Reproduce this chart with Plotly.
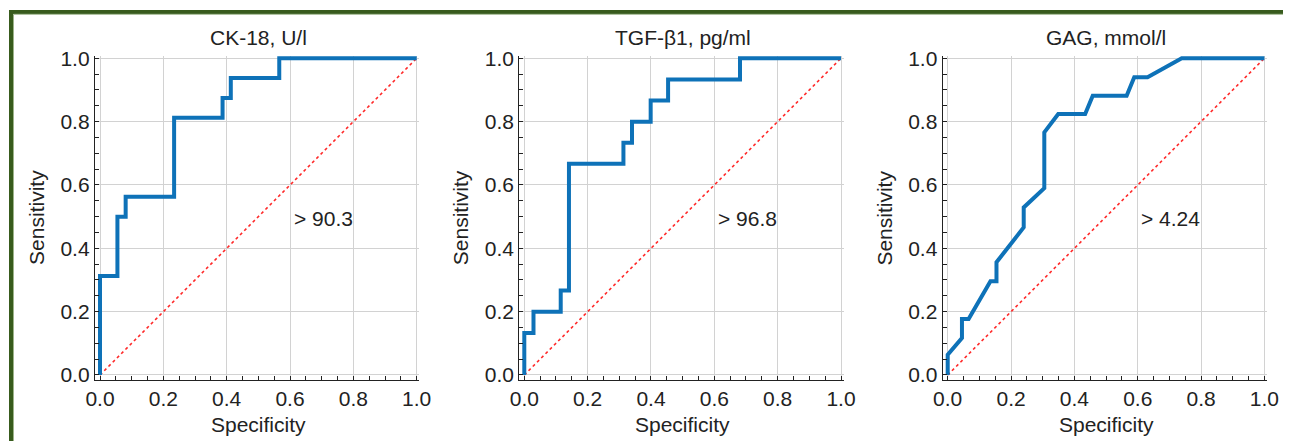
import plotly.graph_objects as go

# ---------------- data ----------------
panel_titles = ["CK-18, U/l", "TGF-\u03b21, pg/ml", "GAG, mmol/l"]
cutoff_labels = ["> 90.3", "> 96.8", "> 4.24"]

# CK-18 ROC (step curve, drawn with hv shape)
ck18_x = [0, 0, 0.055, 0.081, 0.234, 0.387, 0.413, 0.566, 1.0]
ck18_y = [0, 0.3125, 0.5, 0.5625, 0.8125, 0.875, 0.9375, 1.0, 1.0]

# TGF-b1 ROC (step curve, drawn with hv shape)
tgf_x = [0, 0, 0.029, 0.115, 0.141, 0.313, 0.340, 0.399, 0.454, 0.681, 1.0]
tgf_y = [0, 0.133, 0.2, 0.267, 0.667, 0.733, 0.8, 0.867, 0.933, 1.0, 1.0]

# GAG ROC (vertices, straight segments)
gag_x = [0, 0, 0.045, 0.045, 0.066, 0.135, 0.154, 0.154, 0.240, 0.240,
         0.305, 0.305, 0.349, 0.434, 0.458, 0.565, 0.589, 0.631, 0.739, 1.0]
gag_y = [0, 0.064, 0.117, 0.177, 0.177, 0.296, 0.296, 0.356, 0.466, 0.529,
         0.590, 0.766, 0.824, 0.824, 0.882, 0.882, 0.940, 0.940, 1.0, 1.0]

diag_x = [0, 1]
diag_y = [0, 1]

tick_vals = [0, 0.2, 0.4, 0.6, 0.8, 1.0]
cutoff_pos_x = 0.605
cutoff_pos_y = 0.495

# ---------------- styling ----------------
OFF = 8  # page body margin offset of the figure inside the window
W, H = 1291 - OFF, 441 - OFF
FONT = "Liberation Sans, Arial, Helvetica, sans-serif"
TXT = "#222222"
BLUE = "#0e72b8"
GREEN = "#385b1d"


def px_x(v):
    return (v - OFF) / W


def px_y(v):
    return 1 - (v - OFF) / H


# window-pixel layout of the three panels (axis-line left edge)
left_px = [95, 519.3, 942.7]
unit_px = 316.7
lo, hi = -0.0158, 1.008
span_px = (hi - lo) * unit_px
top_px = 58.3 - (hi - 1) * unit_px
bot_px = top_px + span_px

fig = go.Figure()

curves = [
    (ck18_x, ck18_y, "hv"),
    (tgf_x, tgf_y, "hv"),
    (gag_x, gag_y, "linear"),
]

for i, (cx, cy, shape) in enumerate(curves):
    sfx = "" if i == 0 else str(i + 1)
    xa, ya = "x" + sfx, "y" + sfx
    fig.add_trace(go.Scatter(x=diag_x, y=diag_y, mode="lines", xaxis=xa, yaxis=ya,
                             line=dict(color="#ff2a2a", width=1.6, dash="dot"),
                             showlegend=False, hoverinfo="skip"))
    fig.add_trace(go.Scatter(x=cx, y=cy, mode="lines", xaxis=xa, yaxis=ya,
                             line=dict(color=BLUE, width=4, shape=shape),
                             showlegend=False))

    common = dict(
        range=[lo, hi], tickvals=tick_vals, tickformat=".1f",
        showgrid=True, gridcolor="#d2d2d2", gridwidth=1.2,
        zeroline=False, showline=True, linecolor="#222222", linewidth=1.3,
        ticks="inside", ticklen=4, tickcolor="#222222", tickwidth=1.2,
        minor=dict(dtick=0.05, ticks="inside", ticklen=4, tickcolor="#222222",
                   tickwidth=1, showgrid=False),
        tickfont=dict(family=FONT, size=21, color=TXT),
        automargin=False, fixedrange=True,
    )
    fig.layout["xaxis" + sfx] = dict(
        domain=[px_x(left_px[i]), px_x(left_px[i] + span_px)], anchor=ya, **common)
    fig.layout["yaxis" + sfx] = dict(
        domain=[px_y(bot_px), px_y(top_px)], anchor=xa, **common)

    cx_px = left_px[i] + (0 - lo) * unit_px + 0.5 * unit_px
    # panel title
    fig.add_annotation(x=px_x(cx_px), y=px_y(37.5), xref="paper", yref="paper",
                       text=panel_titles[i], showarrow=False,
                       font=dict(family=FONT, size=21, color=TXT),
                       xanchor="center", yanchor="middle")
    # x axis title
    fig.add_annotation(x=px_x(cx_px), y=px_y(424), xref="paper", yref="paper",
                       text="Specificity", showarrow=False,
                       font=dict(family=FONT, size=21, color=TXT),
                       xanchor="center", yanchor="middle")
    # y axis title
    fig.add_annotation(x=px_x(left_px[i] - 58), y=px_y((top_px + bot_px) / 2),
                       xref="paper", yref="paper",
                       text="Sensitivity", showarrow=False, textangle=-90,
                       font=dict(family=FONT, size=21, color=TXT),
                       xanchor="center", yanchor="middle")
    # cutoff label
    fig.add_annotation(x=cutoff_pos_x, y=cutoff_pos_y, xref=xa, yref=ya,
                       text=cutoff_labels[i], showarrow=False,
                       font=dict(family=FONT, size=21, color=TXT),
                       xanchor="left", yanchor="middle")

# green frame (top and left)
fig.add_shape(type="line", xref="paper", yref="paper",
              x0=px_x(9), x1=1, y0=px_y(12), y1=px_y(12),
              line=dict(color=GREEN, width=4))
fig.add_shape(type="line", xref="paper", yref="paper",
              x0=px_x(11), x1=px_x(11), y0=0, y1=px_y(10),
              line=dict(color=GREEN, width=4))
fig.add_shape(type="line", xref="paper", yref="paper",
              x0=px_x(13.5), x1=1, y0=px_y(14.3), y1=px_y(14.3),
              line=dict(color="#9db48a", width=1))
fig.add_shape(type="line", xref="paper", yref="paper",
              x0=px_x(13.5), x1=px_x(13.5), y0=0, y1=px_y(14.3),
              line=dict(color="#9db48a", width=1))

fig.update_layout(
    template="none",
    width=W, height=H, autosize=False,
    margin=dict(l=0, r=0, t=0, b=0, pad=0, autoexpand=False),
    paper_bgcolor="white", plot_bgcolor="white",
    font=dict(family=FONT, color=TXT),
    showlegend=False,
)

fig.write_html("out.html")
